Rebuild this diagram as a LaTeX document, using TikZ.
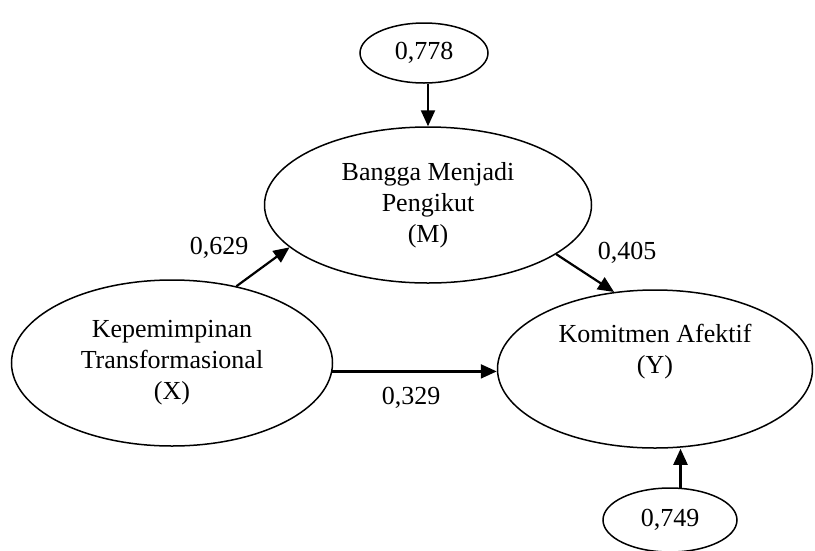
\documentclass[tikz,border=0pt]{standalone}
\usepackage{fontspec}
\setmainfont{Liberation Serif}
\usetikzlibrary{arrows.meta,shapes}

\begin{document}
\begin{tikzpicture}[x=1pt,y=-1pt,>={Triangle[length=16pt,width=14pt]},
    font=\fontsize{26}{31}\selectfont,
    var/.style={shape=ellipse,draw=black,line width=1.5pt,inner sep=0pt,align=center},
    arr/.style={->,line width=2.2pt}]
            \useasboundingbox (0,0) rectangle (815,550);
            \node[var,minimum width=128pt,minimum height=60pt](E1)at(424, 53){0,778};
            \node[var,minimum width=327pt,minimum height=156pt](M)at(428, 205){Bangga Menjadi\\Pengikut\\(M)};
            \node[var,minimum width=321pt,minimum height=166pt](X)at(172, 363){Kepemimpinan\\Transformasional\\(X)};
            \node[var,minimum width=315pt,minimum height=158pt](Y)at(655, 369){Komitmen Afektif\\(Y)\\\strut};
            \node[var,minimum width=134pt,minimum height=64pt](E2)at(670, 520){0,749};
            \node(l629)at(219, 248){0,629};
            \node(l405)at(627, 253){0,405};
            \node(l329)at(411, 398){0,329};
            \path[arr](M.north |- E1.south) edge (M.north)
            (X.50) edge (M.197)
            (M.339) edge (Y.118)
            (X.-3) edge (X.-3 -| Y.west)
            (E2.72) edge (E2.72 |- Y.south);
        \end{tikzpicture}
\end{document}
